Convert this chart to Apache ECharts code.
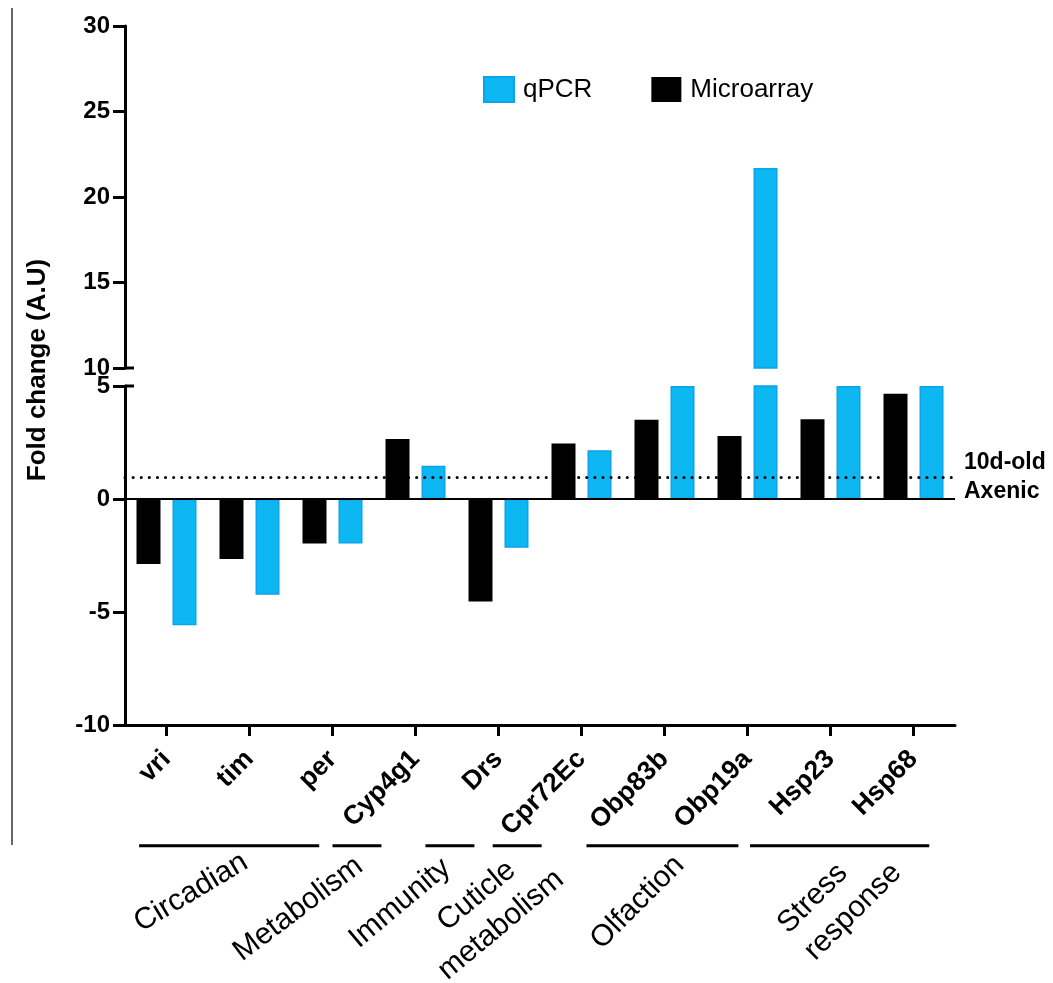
<!DOCTYPE html>
<html><head><meta charset="utf-8">
<script src="https://cdn.jsdelivr.net/npm/echarts@6/dist/echarts.min.js"></script>
<style>html,body{margin:0;padding:0;background:#fff}#main{width:1053px;height:983px}</style>
</head><body><div id="main"></div>
<script>
// ---- data ----
const categories = ['vri', 'tim', 'per', 'Cyp4g1', 'Drs', 'Cpr72Ec', 'Obp83b', 'Obp19a', 'Hsp23', 'Hsp68'];
const microarray = [-2.88, -2.66, -1.97, 2.65, -4.54, 2.46, 3.51, 2.79, 3.53, 4.66];
const qpcr = [-5.59, -4.24, -1.97, 1.47, -2.16, 2.16, 5, 21.7, 5, 5];
const groupNames = ['Circadian', 'Metabolism', 'Immunity', 'Cuticle\nmetabolism', 'Olfaction', 'Stress\nresponse'];
const groupFirst = [0, 3, 4, 5, 6, 8];
const groupLast = [2, 3, 4, 5, 7, 9];
const baselineValue = 0.95;
const baselineLabel = '10d-old\nAxenic';
const upperRange = [10, 30];
const lowerRange = [-10, 5];
const tickStep = 5;
const seriesNames = ['qPCR', 'Microarray'];

// ---- layout / style ----
const FONT = '"Liberation Sans", Arial, Helvetica, sans-serif';
const GRID_LEFT = 125, GRID_RIGHT = 98;
const BLUE = '#0CB7F2', BLUE_EDGE = '#0AA3EC';
// per-group: [line start offset from first cat, line end offset from last cat,
//             label anchor offset from first cat, label dy below axis, angle, align]
const groupLayout = [
  [-0.33, -0.16, 0.295, 167.5, 31, 'center'],
  [-1.00, -0.41, -1.412, 184, 37, 'center'],
  [-0.88, -0.29, -1.187, 178.3, 40, 'center'],
  [-1.07, -0.48, -1.117, 185.4, 40, 'center'],
  [-0.94, -0.11, -0.325, 177.5, 45, 'center'],
  [-0.97, 0.19, -0.416, 217, 45, 'left']
];
const GROUP_LINE_DY = 120.7;

const chart = echarts.init(document.getElementById('main'), null, {renderer: 'canvas'});

const yLabel = {fontSize: 24, fontWeight: 'bold', color: '#000', fontFamily: FONT, margin: 15};
const yLine = {show: true, lineStyle: {color: '#000', width: 3}};
const yTick = {show: true, length: 12, lineStyle: {color: '#000', width: 3}};

function barSeries(name, data, xi, style, extra) {
  return Object.assign({
    name: name, type: 'bar', xAxisIndex: xi, yAxisIndex: xi, data: data,
    barWidth: 24, barGap: '50%', clip: true, itemStyle: style, emphasis: {disabled: true}
  }, extra || {});
}
const blackStyle = {color: '#000'};
const blueStyle = {color: BLUE, borderColor: BLUE_EDGE, borderWidth: 1.5};

const option = {
  animation: false,
  backgroundColor: '#fff',
  textStyle: {fontFamily: FONT},
  legend: {
    data: seriesNames, left: 483, top: 76, padding: 0,
    itemWidth: 30, itemHeight: 25, itemGap: 59, icon: 'rect',
    textStyle: {fontSize: 26, color: '#000', fontFamily: FONT, padding: [0, 0, 0, 4]},
    selectedMode: false
  },
  grid: [
    {left: GRID_LEFT, right: GRID_RIGHT, top: 26, height: 342},
    {left: GRID_LEFT, right: GRID_RIGHT, top: 386, height: 339}
  ],
  xAxis: [
    {type: 'category', gridIndex: 0, data: categories, show: false},
    {type: 'category', gridIndex: 1, data: categories, position: 'bottom',
     axisLine: {show: true, onZero: false, lineStyle: {color: '#000', width: 3}},
     axisTick: {show: true, alignWithLabel: true, length: 11, lineStyle: {color: '#000', width: 3}},
     axisLabel: {rotate: 45, fontSize: 26.5, fontWeight: 'bold', color: '#000', fontFamily: FONT, margin: 30, interval: 0},
     splitLine: {show: false}}
  ],
  yAxis: [
    {type: 'value', gridIndex: 0, min: upperRange[0], max: upperRange[1], interval: tickStep,
     axisLine: yLine, axisTick: yTick, axisLabel: yLabel, splitLine: {show: false}},
    {type: 'value', gridIndex: 1, min: lowerRange[0], max: lowerRange[1], interval: tickStep,
     axisLine: yLine, axisTick: yTick, axisLabel: yLabel, splitLine: {show: false}}
  ],
  graphic: [
    {type: 'text', x: 38, y: 370, rotation: Math.PI / 2,
     style: {text: 'Fold change (A.U)', fontSize: 26, fontWeight: 'bold', fontFamily: FONT, fill: '#000', align: 'center', verticalAlign: 'middle'}},
    {type: 'line', shape: {x1: 12, y1: 8, x2: 12, y2: 845}, style: {stroke: '#666', lineWidth: 2}}
  ],
  series: [
    barSeries('Microarray', microarray, 1, blackStyle, {
      markLine: {
        silent: true, symbol: 'none', animation: false, z: 5,
        data: [
          {yAxis: 0, lineStyle: {color: '#000', width: 2, type: 'solid'}, label: {show: false}},
          {yAxis: baselineValue, lineStyle: {color: '#000', width: 3, type: [0.1, 8], cap: 'round'},
           label: {show: true, position: 'end', formatter: baselineLabel, distance: 9,
                   fontSize: 23, fontWeight: 'bold', lineHeight: 29, color: '#000', fontFamily: FONT}}
        ]
      }
    }),
    barSeries('qPCR', qpcr, 1, blueStyle),
    barSeries('Microarray', microarray, 0, blackStyle),
    barSeries('qPCR', qpcr, 0, blueStyle),
    {
      type: 'custom', xAxisIndex: 1, yAxisIndex: 1, silent: true, clip: false,
      encode: {x: [0, 1], y: 2},
      data: groupNames.map((n, i) => ({name: n, value: [groupFirst[i], groupLast[i], lowerRange[0]]})),
      renderItem: function (params, api) {
        const i = params.dataIndex;
        const L = groupLayout[i];
        const c0 = api.coord([0, lowerRange[0]]);
        const c1 = api.coord([1, lowerRange[0]]);
        const step = c1[0] - c0[0];
        const xa = api.coord([api.value(0), lowerRange[0]])[0];
        const xb = api.coord([api.value(1), lowerRange[0]])[0];
        const base = c0[1];
        return {
          type: 'group',
          children: [
            {type: 'line', shape: {x1: xa + L[0] * step, y1: base + GROUP_LINE_DY, x2: xb + L[1] * step, y2: base + GROUP_LINE_DY},
             style: {stroke: '#000', lineWidth: 3}},
            {type: 'text', x: xa + L[2] * step, y: base + L[3], rotation: L[4] * Math.PI / 180,
             style: {text: groupNames[i], fontSize: 30, fontFamily: FONT, fill: '#000',
                     align: L[5], verticalAlign: 'middle', lineHeight: 38}}
          ]
        };
      }
    }
  ]
};
chart.setOption(option);

// break caps on the y axis (tick marks crossing the axis at the break ends)
const yUpperEnd = chart.convertToPixel({yAxisIndex: 0}, upperRange[0]);
const yLowerEnd = chart.convertToPixel({yAxisIndex: 1}, lowerRange[1]);
chart.setOption({
  graphic: option.graphic.concat([
    {type: 'line', shape: {x1: GRID_LEFT, y1: yUpperEnd, x2: GRID_LEFT + 9, y2: yUpperEnd}, style: {stroke: '#000', lineWidth: 3}},
    {type: 'line', shape: {x1: GRID_LEFT, y1: yLowerEnd, x2: GRID_LEFT + 9, y2: yLowerEnd}, style: {stroke: '#000', lineWidth: 3}}
  ])
});
</script>
</body></html>
